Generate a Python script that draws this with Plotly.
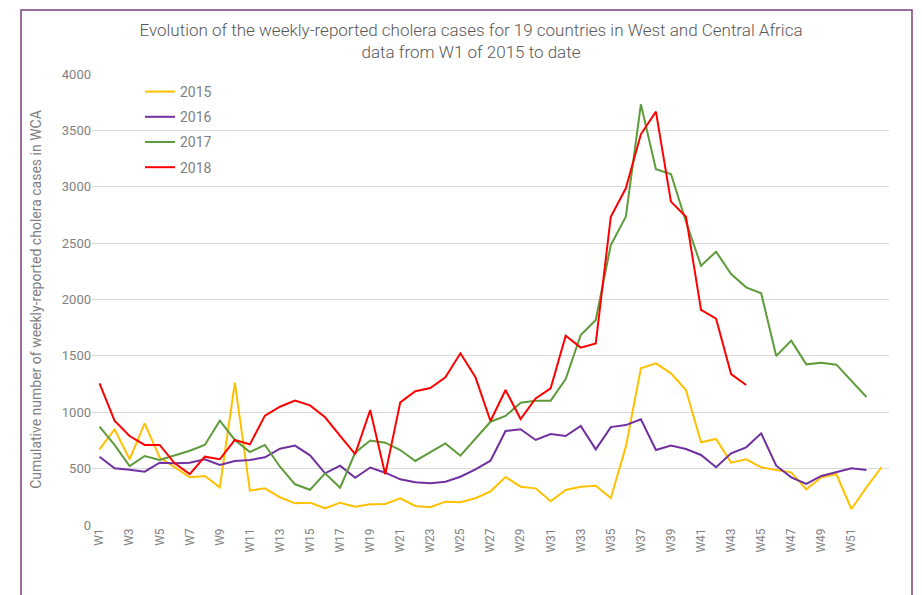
import plotly.graph_objects as go

weeks = [f"W{i}" for i in range(1, 54)]

cases_2015 = [671, 849, 583, 902, 600, 512, 423, 435, 334, 1262,
              304, 325, 246, 192, 198, 148, 198, 162, 185, 186,
              237, 169, 157, 207, 201, 237, 299, 426, 340, 325,
              210, 310, 340, 349, 240, 695, 1390, 1434, 1345, 1197,
              733, 763, 553, 583, 512, 488, 467, 316, 423, 450,
              142, 334, 512]
cases_2016 = [606, 503, 491, 473, 553, 547, 553, 583, 532, 568,
              576, 600, 677, 704, 618, 458, 526, 418, 510, 464,
              405, 379, 370, 384, 428, 494, 570, 834, 849, 754,
              807, 789, 878, 671, 868, 886, 937, 665, 704, 674,
              621, 512, 636, 689, 813, 526, 423, 364, 435, 467,
              503, 488]
cases_2017 = [872, 710, 523, 612, 576, 618, 659, 710, 925, 754,
              647, 710, 517, 361, 313, 458, 331, 641, 750, 730,
              665, 568, 647, 724, 615, 769, 916, 967, 1085, 1103,
              1103, 1295, 1685, 1818, 2483, 2734, 3731, 3155, 3113, 2690,
              2300, 2424, 2226, 2108, 2055, 1499, 1635, 1425, 1440, 1422,
              1280, 1135]
cases_2018 = [1257, 925, 789, 710, 710, 547, 452, 606, 583, 754,
              715, 970, 1049, 1103, 1061, 955, 790, 628, 1020, 449,
              1088, 1186, 1215, 1310, 1523, 1310, 922, 1197, 940, 1123,
              1212, 1679, 1573, 1611, 2734, 2986, 3465, 3666, 2868, 2734,
              1907, 1830, 1339, 1242]

series = [("2015", cases_2015, "#FFC000"),
          ("2016", cases_2016, "#7030A0"),
          ("2017", cases_2017, "#5E9B3A"),
          ("2018", cases_2018, "#FF0000")]

y_ticks = [0, 500, 1000, 1500, 2000, 2500, 3000, 3500, 4000]
x_ticks = weeks[0:51:2]

fig = go.Figure()
for name, vals, color in series:
    fig.add_trace(go.Scatter(
        x=weeks[:len(vals)], y=vals, name=name, mode="lines",
        line=dict(color=color, width=2), legendgroup=name))

grey = "#7F7F7F"
font_family = "Roboto, sans-serif"

# the page has an 8px body margin, so figure coordinates are page - 8
W, H = 914, 587
pl, pr, pt, pb = 92 - 8, 889 - 8, 74 - 8, 525 - 8

fig.update_layout(
    width=W, height=H,
    margin=dict(l=pl, r=W - pr, t=pt, b=H - pb),
    paper_bgcolor="white", plot_bgcolor="white",
    font=dict(family=font_family, color=grey, size=12),
    title=dict(
        text="Evolution of the weekly-reported cholera cases for 19 countries in West and Central Africa<br>data from W1 of 2015 to date",
        x=(471 - 8) / W, xref="container", xanchor="center",
        y=1 - (36 - 8) / H, yanchor="middle",
        font=dict(family=font_family, size=17, color="#595959", weight=300)),
    legend=dict(x=(140 - 92) / 797, y=1 + (74 - 76) / 451, xanchor="left", yanchor="top",
                bgcolor="rgba(0,0,0,0)", font=dict(size=14, color=grey),
                traceorder="grouped", tracegroupgap=4),
    xaxis=dict(type="category", categoryorder="array", categoryarray=weeks,
               range=[-0.5, 52.5], tickmode="array", tickvals=x_ticks,
               ticktext=x_ticks, tickangle=-90, showgrid=False,
               showline=False, ticks="", tickfont=dict(size=12, color=grey)),
    yaxis=dict(range=[0, 4000], tickvals=y_ticks, showgrid=True,
               gridcolor="#D9D9D9", gridwidth=1, zeroline=False,
               ticks="", tickfont=dict(size=13, color=grey),
               title=dict(text="Cumulative number of weekly-reported cholera cases in WCA",
                          font=dict(size=14, color=grey), standoff=16)),
    shapes=[dict(type="rect", xref="paper", yref="paper",
                 x0=(21 - 92) / 797, x1=(912 - 92) / 797,
                 y0=-(640 - 525) / 451, y1=(525 - 10) / 451,
                 line=dict(color="#7B3F7B", width=1.5), fillcolor="rgba(0,0,0,0)")],
)

fig.write_html("out.html")
